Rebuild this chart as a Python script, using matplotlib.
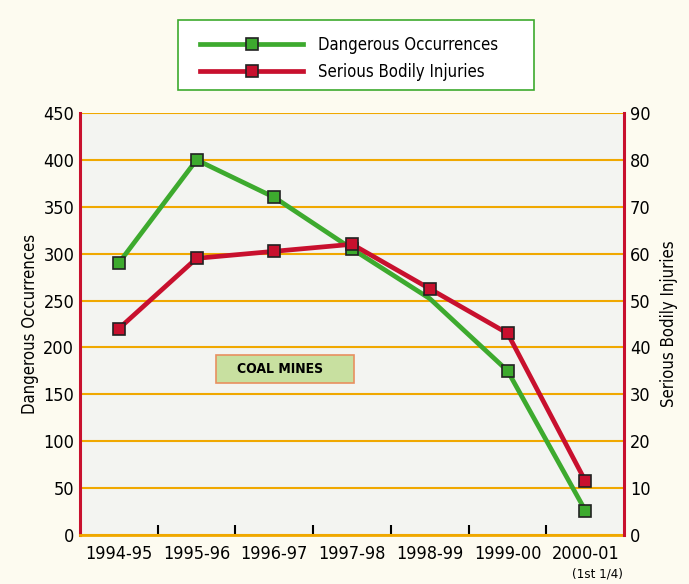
import numpy as np
import matplotlib.pyplot as plt
from matplotlib.lines import Line2D
from matplotlib.patches import Rectangle

plt.rcParams['font.family'] = ['DejaVu Sans']
plt.rcParams['font.stretch'] = 'condensed'

# Data
years = ['1994-95', '1995-96', '1996-97', '1997-98', '1998-99', '1999-00', '2000-01']
dangerous = [290, 400, 360, 305, 252, 175, 26]
injuries = [44, 59, 60.5, 62, 52.5, 43, 11.5]

green = '#3DAA2E'
red = '#C8102E'
orange = '#F0A800'

fig = plt.figure(figsize=(6.89, 5.84), dpi=100, facecolor='#FDFBF0')
ax = fig.add_axes([0.116, 0.084, 0.79, 0.7225])
ax.set_facecolor('#F3F4F1')
x = np.arange(len(years))

ax.set_xlim(-0.5, 6.5)
ax.set_ylim(0, 450)
ax.set_yticks(np.arange(0, 451, 50))
ax.grid(axis='y', color=orange, linewidth=1.5)
ax.set_axisbelow(True)
ax.tick_params(axis='y', length=0, labelsize=13, pad=4)
ax.set_xticks(x)
ax.set_xticklabels(years, fontsize=13)
ax.tick_params(axis='x', which='major', length=0, pad=7)
ax.set_xticks(x[:-1] + 0.5, minor=True)
ax.tick_params(axis='x', which='minor', direction='in', length=7, width=1.5, color='black')
ax.text(6.15, -35, '(1st 1/4)', fontsize=9.5, ha='center', va='top')
ax.set_ylabel('Dangerous Occurrences', fontsize=12, labelpad=3)

ax.spines['left'].set_color(red)
ax.spines['left'].set_linewidth(2.2)
ax.spines['bottom'].set_color(orange)
ax.spines['bottom'].set_linewidth(2)
ax.spines['top'].set_visible(False)
ax.spines['right'].set_visible(False)

ax2 = ax.twinx()
ax2.set_ylim(0, 90)
ax2.set_yticks(np.arange(0, 91, 10))
ax2.tick_params(axis='y', length=0, labelsize=13, pad=4)
ax2.set_ylabel('Serious Bodily Injuries', fontsize=12, labelpad=7)
ax2.spines['right'].set_color(red)
ax2.spines['right'].set_linewidth(2.2)
for s in ['left', 'top', 'bottom']:
    ax2.spines[s].set_visible(False)

mk = dict(marker='s', markersize=9, markeredgecolor='#222222', markeredgewidth=1.2)

# green series drawn on the right axes' scale so it sits under the red line
ax2.plot(x, np.array(dangerous) / 5, color=green, linewidth=3.4, markerfacecolor=green,
         markevery=[0, 1, 2, 3, 5, 6], zorder=3, **mk)
ax2.plot(x, injuries, color=red, linewidth=3.4, markerfacecolor=red, zorder=4, **mk)

ax.add_patch(Rectangle((0.25, 0.36), 0.253, 0.066, transform=ax.transAxes,
                       facecolor='#C8E0A0', edgecolor='#E89060', linewidth=1.2, zorder=2))
ax.text(0.289, 0.393, 'COAL MINES', transform=ax.transAxes, fontsize=10, fontweight='bold',
        va='center', ha='left', zorder=3)

# legend box
fig.patches.append(Rectangle((178 / 689, 1 - 90 / 584), 356 / 689, 70 / 584,
                             transform=fig.transFigure, facecolor='white',
                             edgecolor=green, linewidth=1.2))
handles = [
    Line2D([], [], color=green, linewidth=3.4, markerfacecolor=green, **mk),
    Line2D([], [], color=red, linewidth=3.4, markerfacecolor=red, **mk),
]
leg = fig.legend(handles, ['Dangerous Occurrences', 'Serious Bodily Injuries'],
                 loc='upper left', bbox_to_anchor=(200 / 689, 1 - 36 / 584), fontsize=12,
                 handlelength=6.2, handletextpad=0.9, borderpad=0, labelspacing=0.55,
                 frameon=False, borderaxespad=0)

plt.savefig('out.png', dpi=100, facecolor=fig.get_facecolor())
